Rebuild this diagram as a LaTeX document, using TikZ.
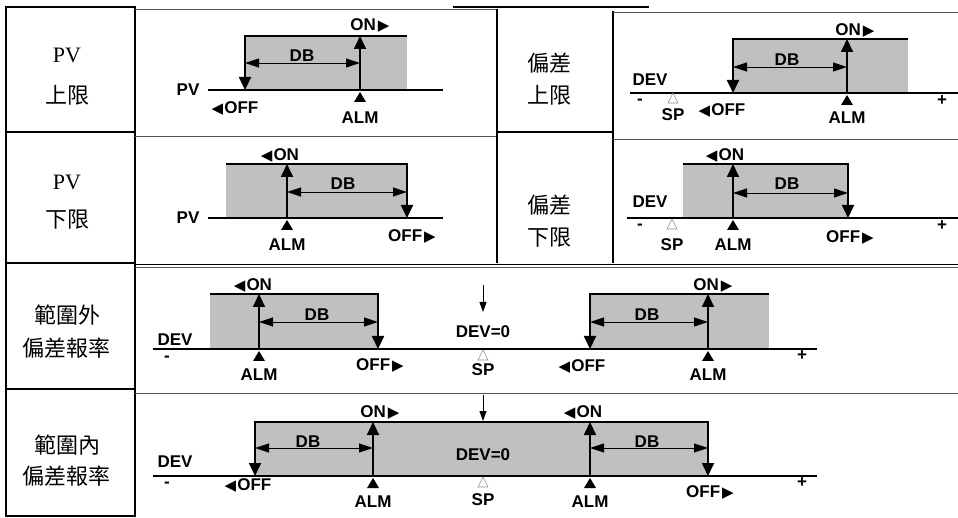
\documentclass[tikz,border=0pt]{standalone}
\usepackage{fontspec}
\setmainfont{Liberation Serif}
\newfontfamily\cjk{Noto Sans CJK TC}
\newfontfamily\arl{Liberation Sans}
\newfontfamily\symf{DejaVu Sans}
\usetikzlibrary{arrows.meta, positioning}
\definecolor{cband}{RGB}{192,192,192}
\definecolor{cgrid}{RGB}{85,85,85}
\definecolor{csp}{RGB}{140,140,140}
\newcommand{\trileft}{{\symf\fontsize{15}{15}\selectfont ◀}\kern1pt}
\newcommand{\triright}{\kern2pt{\symf\fontsize{15}{15}\selectfont ▶}}

\begin{document}
\begin{tikzpicture}[x=1pt, y=-1pt,
    band/.style={fill=cband},
    trip/.style={line width=1.8pt, -{Triangle[width=12pt,length=13pt]}},
    tripboth/.style={line width=1.8pt, {Triangle[width=12pt,length=13pt]}-{Triangle[width=12pt,length=13pt]}},
    dbline/.style={line width=0.8pt, {Triangle[width=9pt,length=14pt]}-{Triangle[width=9pt,length=14pt]}},
    axis/.style={line width=1.6pt},
    zero/.style={line width=1pt, -{Triangle[width=7pt,length=10pt]}},
    tag/.style={inner sep=0pt, font=\arl\bfseries\fontsize{17}{17}\selectfont},
    cell/.style={inner sep=0pt, font=\fontsize{22}{22}\selectfont},
    cellcjk/.style={inner sep=0pt, font=\cjk\fontsize{22}{22}\selectfont},
    frame/.style={line width=2.8pt},
    thin/.style={line width=0.8pt, cgrid},
    almmark/.pic={\fill (-6,12) -- (6,12) -- (0,2) -- cycle;},
    spmark/.pic={\draw[csp, line width=0.6pt] (-5,5) -- (5,5) -- (0,-5) -- cycle;}]

  \useasboundingbox (0,0) rectangle (958,518);

  % table
  \draw[frame] (6,7) rectangle (135,516);
  \draw[frame] (6,132) -- (135,132);
  \draw[frame] (6,263) -- (135,263);
  \draw[frame] (6,389) -- (135,389);
  \draw[frame, line width=2.4pt] (453,7) -- (649,7);
  \draw[thin] (135,9.5) -- (497,9.5);
  \draw[thin] (135,136) -- (497,136);
  \draw[line width=2.2pt] (497,9) -- (497,263);
  \draw[line width=1.6pt] (613,11) -- (613,263);
  \draw[line width=2.4pt] (497,132) -- (613,132);
  \draw[thin] (613,12) -- (958,12);
  \draw[thin] (613,139) -- (958,139);
  \draw[thin, black] (135,264) -- (958,264);
  \draw[thin] (135,267.5) -- (958,267.5);
  \draw[thin] (135,393) -- (958,393);

  % row labels
  \node[cell] (t1a) at (67,55) {PV};
  \node[cellcjk] (t1b) at (67,95) {上限};
  \node[cell] (t2a) at (67,182) {PV};
  \node[cellcjk] (t2b) at (67,220) {下限};
  \node[cellcjk] (t3a) at (549,63) {偏差};
  \node[cellcjk] (t3b) at (549,95) {上限};
  \node[cellcjk] (t4a) at (549,205) {偏差};
  \node[cellcjk] (t4b) at (549,238) {下限};
  \node[cellcjk] (t5a) at (67,315) {範圍外};
  \node[cellcjk] (t5b) at (67,348) {偏差報率};
  \node[cellcjk] (t6a) at (67,445) {範圍內};
  \node[cellcjk] (t6b) at (67,476) {偏差報率};

  % PV 上限
  \coordinate (ph-a) at (208,90);
  \coordinate (ph-b) at (443,90);
  \coordinate (ph-off) at (245,90);
  \coordinate (ph-alm) at (360,90);
  \coordinate (ph-top) at (407,36);
  \coordinate (ph-db) at (245,63);
  \fill[band] (ph-off |- ph-top) rectangle (ph-top |- ph-off);
  \draw[axis] (ph-a) -- (ph-b);
  \draw[trip] (ph-top) -- (ph-off |- ph-top) -- (ph-off);
  \draw[trip] (ph-alm) -- (ph-alm |- ph-top);
  \draw[dbline] (ph-db) -- (ph-alm |- ph-db);
  \pic at (ph-alm) {almmark};
  \node[tag] (ph-on) at (370,25) {ON\triright};
  \node[tag] (ph-dbl) at (302,56) {DB};
  \node[tag] (ph-pv) at (188,90) {PV};
  \node[tag] (ph-offl) at (235,108) {\trileft OFF};
  \node[tag] (ph-alml) at (360,118) {ALM};

  % PV 下限
  \coordinate (pl-a) at (208,218);
  \coordinate (pl-b) at (443,218);
  \coordinate (pl-off) at (407,218);
  \coordinate (pl-alm) at (287,218);
  \coordinate (pl-top) at (226,164);
  \coordinate (pl-db) at (407,192);
  \fill[band] (pl-top) rectangle (pl-off);
  \draw[axis] (pl-a) -- (pl-b);
  \draw[trip] (pl-top) -- (pl-off |- pl-top) -- (pl-off);
  \draw[trip] (pl-alm) -- (pl-alm |- pl-top);
  \draw[dbline] (pl-alm |- pl-db) -- (pl-db);
  \pic at (pl-alm) {almmark};
  \node[tag] (pl-on) at (280,155) {\trileft ON};
  \node[tag] (pl-dbl) at (343,184) {DB};
  \node[tag] (pl-pv) at (188,218) {PV};
  \node[tag] (pl-offl) at (412,236) {OFF\triright};
  \node[tag] (pl-alml) at (287,245) {ALM};

  % 偏差 上限
  \coordinate (dh-a) at (630,93);
  \coordinate (dh-b) at (958,93);
  \coordinate (dh-off) at (733,93);
  \coordinate (dh-alm) at (847,93);
  \coordinate (dh-top) at (908,39);
  \coordinate (dh-db) at (733,67);
  \fill[band] (dh-off |- dh-top) rectangle (dh-top |- dh-off);
  \draw[axis] (dh-a) -- (dh-b);
  \draw[trip] (dh-top) -- (dh-off |- dh-top) -- (dh-off);
  \draw[trip] (dh-alm) -- (dh-alm |- dh-top);
  \draw[dbline] (dh-db) -- (dh-alm |- dh-db);
  \pic at (dh-alm) {almmark};
  \pic at (673,98) {spmark};
  \node[tag] (dh-on) at (855,30) {ON\triright};
  \node[tag] (dh-dbl) at (787,60) {DB};
  \node[tag] (dh-dev) at (650,80) {DEV};
  \node[tag] (dh-minus) at (640,102) {-};
  \node[tag] (dh-sp) at (673,115) {SP};
  \node[tag] (dh-offl) at (722,110) {\trileft OFF};
  \node[tag] (dh-alml) at (847,118) {ALM};
  \node[tag] (dh-plus) at (942,101) {+};

  % 偏差 下限
  \coordinate (dl-a) at (627,218);
  \coordinate (dl-b) at (958,218);
  \coordinate (dl-off) at (848,218);
  \coordinate (dl-alm) at (733,218);
  \coordinate (dl-top) at (683,164);
  \coordinate (dl-db) at (848,193);
  \fill[band] (dl-top) rectangle (dl-off);
  \draw[axis] (dl-a) -- (dl-b);
  \draw[trip] (dl-top) -- (dl-off |- dl-top) -- (dl-off);
  \draw[trip] (dl-alm) -- (dl-alm |- dl-top);
  \draw[dbline] (dl-alm |- dl-db) -- (dl-db);
  \pic at (dl-alm) {almmark};
  \pic at (672,224) {spmark};
  \node[tag] (dl-on) at (725,155) {\trileft ON};
  \node[tag] (dl-dbl) at (787,184) {DB};
  \node[tag] (dl-dev) at (650,202) {DEV};
  \node[tag] (dl-minus) at (640,227) {-};
  \node[tag] (dl-sp) at (672,245) {SP};
  \node[tag] (dl-offl) at (850,237) {OFF\triright};
  \node[tag] (dl-alml) at (733,245) {ALM};
  \node[tag] (dl-plus) at (942,226) {+};

  % 範圍外 偏差報率
  \coordinate (ro-a) at (153,349);
  \coordinate (ro-b) at (817,349);
  \coordinate (ro-offl) at (378,349);
  \coordinate (ro-alml) at (259,349);
  \coordinate (ro-topl) at (210,294);
  \coordinate (ro-offr) at (590,349);
  \coordinate (ro-almr) at (708,349);
  \coordinate (ro-topr) at (769,294);
  \coordinate (ro-db) at (378,322);
  \coordinate (ro-z0) at (483,285);
  \coordinate (ro-z1) at (483,312);
  \fill[band] (ro-topl) rectangle (ro-offl);
  \fill[band] (ro-offr |- ro-topr) rectangle (ro-topr |- ro-offr);
  \draw[axis] (ro-a) -- (ro-b);
  \draw[trip] (ro-topl) -- (ro-offl |- ro-topl) -- (ro-offl);
  \draw[trip] (ro-alml) -- (ro-alml |- ro-topl);
  \draw[dbline] (ro-alml |- ro-db) -- (ro-db);
  \draw[trip] (ro-topr) -- (ro-offr |- ro-topr) -- (ro-offr);
  \draw[trip] (ro-almr) -- (ro-almr |- ro-topr);
  \draw[dbline] (ro-offr |- ro-db) -- (ro-almr |- ro-db);
  \draw[zero] (ro-z0) -- (ro-z1);
  \pic at (ro-alml) {almmark};
  \pic at (ro-almr) {almmark};
  \pic at (483,355) {spmark};
  \node[tag] (ro-dev) at (175,340) {DEV};
  \node[tag] (ro-minus) at (167,359) {-};
  \node[tag] (ro-onl) at (253,285) {\trileft ON};
  \node[tag] (ro-dbl) at (317,315) {DB};
  \node[tag] (ro-alm1) at (259,375) {ALM};
  \node[tag] (ro-off1) at (380,365) {OFF\triright};
  \node[tag] (ro-dev0) at (483,332) {DEV=0};
  \node[tag] (ro-sp) at (483,370) {SP};
  \node[tag] (ro-off2) at (582,366) {\trileft OFF};
  \node[tag] (ro-dbr) at (647,315) {DB};
  \node[tag] (ro-onr) at (713,285) {ON\triright};
  \node[tag] (ro-alm2) at (708,375) {ALM};
  \node[tag] (ro-plus) at (802,356) {+};

  % 範圍內 偏差報率
  \coordinate (ri-a) at (153,476);
  \coordinate (ri-b) at (817,476);
  \coordinate (ri-offl) at (255,476);
  \coordinate (ri-alml) at (373,476);
  \coordinate (ri-almr) at (590,476);
  \coordinate (ri-offr) at (708,476);
  \coordinate (ri-top) at (255,422);
  \coordinate (ri-db) at (255,448);
  \coordinate (ri-z0) at (483,395);
  \coordinate (ri-z1) at (483,421);
  \fill[band] (ri-top) rectangle (ri-offr);
  \draw[axis] (ri-a) -- (ri-b);
  \draw[tripboth] (ri-offl) -- (ri-top) -- (ri-offr |- ri-top) -- (ri-offr);
  \draw[trip] (ri-alml) -- (ri-alml |- ri-top);
  \draw[trip] (ri-almr) -- (ri-almr |- ri-top);
  \draw[dbline] (ri-db) -- (ri-alml |- ri-db);
  \draw[dbline] (ri-almr |- ri-db) -- (ri-offr |- ri-db);
  \draw[zero] (ri-z0) -- (ri-z1);
  \pic at (ri-alml) {almmark};
  \pic at (ri-almr) {almmark};
  \pic at (483,482) {spmark};
  \node[tag] (ri-dev) at (175,462) {DEV};
  \node[tag] (ri-minus) at (167,485) {-};
  \node[tag] (ri-off1) at (248,485) {\trileft OFF};
  \node[tag] (ri-dbl) at (308,442) {DB};
  \node[tag] (ri-on1) at (380,412) {ON\triright};
  \node[tag] (ri-alm1) at (373,502) {ALM};
  \node[tag] (ri-dev0) at (483,455) {DEV=0};
  \node[tag] (ri-sp) at (483,500) {SP};
  \node[tag] (ri-on2) at (583,412) {\trileft ON};
  \node[tag] (ri-dbr) at (647,442) {DB};
  \node[tag] (ri-alm2) at (590,502) {ALM};
  \node[tag] (ri-off2) at (710,492) {OFF\triright};
  \node[tag] (ri-plus) at (802,483) {+};
\end{tikzpicture}
\end{document}
